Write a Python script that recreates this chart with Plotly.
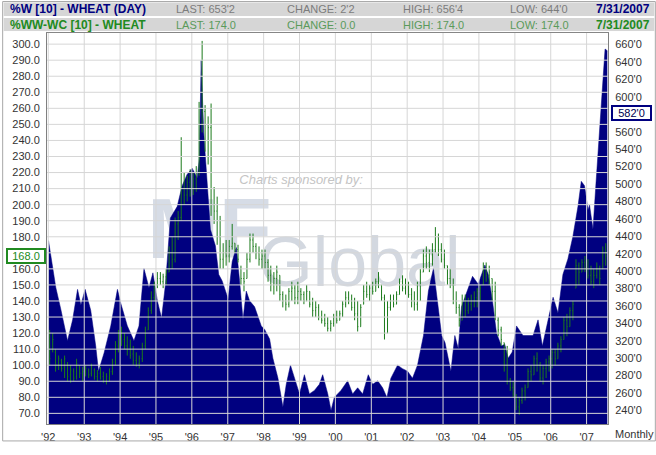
import plotly.graph_objects as go
import pandas as pd

W, H = 656, 455
ML, MR, MT, MB = 45, 48, 33, 18
PW, PH = W - ML - MR, H - MT - MB

FONT = "Liberation Sans, Arial, sans-serif"
NAVY = "#000080"
GREEN = "#1b7a1b"

# ---- daily wheat (right axis) ----
wheat_dates = [
    "1992-01-03", "1992-02-15", "1992-03-18", "1992-05-08", "1992-07-15", "1992-09-05",
    "1992-10-25", "1992-11-28", "1993-01-10", "1993-03-08", "1993-04-28", "1993-05-26",
    "1993-07-22", "1993-09-28", "1993-12-05", "1994-01-08", "1994-03-16", "1994-05-22",
    "1994-07-12", "1994-09-01", "1994-10-22", "1994-12-01", "1995-01-15", "1995-02-27",
    "1995-04-08", "1995-05-28", "1995-08-05", "1995-09-25", "1995-11-14", "1996-01-05",
    "1996-02-24", "1996-03-18", "1996-04-05", "1996-05-01", "1996-06-05", "1996-07-08",
    "1996-08-28", "1996-10-01", "1996-11-04", "1997-01-05", "1997-02-15", "1997-03-29",
    "1997-05-01", "1997-06-05", "1997-07-08", "1997-08-11", "1997-10-01", "1997-12-08",
    "1998-01-11", "1998-03-03", "1998-04-05", "1998-05-27", "1998-07-16", "1998-08-19",
    "1998-10-01", "1998-11-10", "1999-01-01", "1999-02-20", "1999-04-12", "1999-06-02",
    "1999-07-22", "1999-08-25", "1999-10-16", "1999-11-18", "1999-12-21", "2000-02-27",
    "2000-05-05", "2000-06-25", "2000-08-15", "2000-10-05", "2000-12-01", "2001-01-15",
    "2001-03-07", "2001-04-26", "2001-06-09", "2001-07-19", "2001-09-25", "2001-11-14",
    "2002-01-05", "2002-02-24", "2002-04-16", "2002-06-16", "2002-08-05", "2002-09-25",
    "2002-10-28", "2002-12-18", "2003-01-21", "2003-02-24", "2003-03-22", "2003-05-01",
    "2003-06-05", "2003-07-08", "2003-08-28", "2003-10-28", "2003-12-25", "2004-03-02",
    "2004-04-05", "2004-05-18", "2004-06-28", "2004-08-17", "2004-09-20", "2004-10-25",
    "2004-12-05", "2005-01-18", "2005-03-25", "2005-05-15", "2005-07-05", "2005-08-25",
    "2005-10-08", "2005-11-28", "2006-01-25", "2006-03-16", "2006-05-05", "2006-06-25",
    "2006-08-15", "2006-10-05", "2006-11-08", "2006-12-11", "2007-01-15", "2007-01-31",
    "2007-03-07", "2007-04-08", "2007-05-12", "2007-06-16", "2007-07-08", "2007-07-31",
]
wheat_prices = [
    435, 403, 381, 356, 320, 344,
    379, 361, 379, 355, 314, 285,
    306, 337, 379, 363, 337, 320,
    337, 403, 381, 398, 366, 346,
    385, 461, 474, 498, 511, 518,
    507, 529, 642, 559, 496, 448,
    429, 396, 389, 368, 411, 427,
    389, 344, 377, 366, 359, 337,
    333, 322, 300, 277, 244, 270,
    292, 277, 259, 281, 259, 263,
    270, 281, 259, 240, 255, 263,
    274, 259, 266, 259, 281, 270,
    274, 266, 255, 277, 292, 288,
    285, 277, 292, 326, 377, 403,
    374, 326, 318, 300, 285, 326,
    311, 359, 374, 394, 385, 407,
    396, 366, 329, 314, 316, 300,
    307, 337, 326, 326, 326, 344,
    314, 340, 370, 352, 396, 414,
    440, 474, 503, 498, 470, 476,
    448, 503, 559, 618, 655, 653,
]

# ---- monthly spread bars (left axis) ----
spread_months = pd.date_range("1992-01-01", "2007-07-01", freq="MS") + pd.Timedelta(days=14)
spread_high = [
    122, 120, 110, 106, 104, 106, 102, 100, 98, 104, 100, 99,
    100, 98, 101, 98, 97, 99, 96, 95, 98, 104, 115, 122,
    124, 120, 118, 116, 112, 108, 106, 114, 124, 136, 146, 152,
    158, 158, 157, 160, 174, 180, 192, 196, 242, 220, 218, 222,
    220, 224, 264, 302, 262, 255, 263, 211, 205, 193, 176, 178,
    178, 188, 176, 175, 162, 158, 170, 182, 182, 176, 174, 172,
    172, 166, 162, 158, 162, 156, 146, 144, 148, 152, 150, 152,
    148, 146, 150, 146, 142, 140, 138, 134, 132, 130, 128, 132,
    134, 134, 140, 146, 146, 144, 142, 140, 138, 150, 152, 150,
    152, 154, 158, 150, 144, 140, 144, 144, 146, 154, 156, 154,
    152, 148, 146, 152, 160, 172, 174, 172, 176, 186, 182, 176,
    172, 162, 160, 154, 146, 138, 144, 144, 142, 144, 146, 148,
    150, 164, 164, 162, 154, 152, 130, 124, 114, 112, 92, 90,
    82, 80, 86, 88, 98, 100, 106, 108, 102, 100, 104, 106,
    110, 110, 114, 118, 130, 132, 136, 140, 166, 164, 166, 168,
    166, 162, 160, 164, 162, 174, 176,
]
spread_low = [
    100, 108, 96, 97, 96, 92, 90, 89, 90, 91, 92, 90,
    93, 92, 93, 91, 90, 91, 89, 88, 90, 94, 100, 108,
    112, 110, 106, 104, 100, 99, 98, 102, 110, 122, 132, 140,
    148, 150, 148, 150, 158, 160, 164, 178, 190, 200, 202, 205,
    206, 208, 218, 245, 233, 225, 193, 188, 175, 160, 160, 162,
    164, 172, 170, 164, 150, 146, 154, 164, 170, 166, 162, 160,
    160, 152, 146, 144, 146, 140, 136, 134, 136, 140, 138, 138,
    140, 138, 140, 136, 130, 130, 128, 126, 124, 121, 121, 124,
    126, 128, 130, 136, 138, 134, 128, 121, 124, 138, 142, 140,
    144, 146, 148, 140, 116, 120, 134, 136, 138, 144, 146, 144,
    142, 136, 134, 134, 140, 158, 160, 158, 162, 170, 168, 164,
    160, 150, 148, 138, 132, 124, 128, 130, 132, 134, 136, 136,
    140, 150, 152, 150, 140, 128, 118, 112, 96, 88, 84, 80,
    72, 69, 76, 78, 86, 90, 94, 96, 90, 88, 92, 96,
    98, 100, 104, 108, 116, 118, 124, 128, 148, 150, 158, 158,
    154, 150, 148, 154, 150, 160, 162,
]
spread_open = [
    118, 110, 108, 100, 103, 99, 100, 94, 96, 93, 99, 95,
    96, 97, 95, 97, 93, 95, 93, 90, 92, 96, 102, 112,
    118, 116, 112, 110, 107, 103, 101, 104, 112, 122, 134, 142,
    150, 154, 152, 155, 158, 170, 166, 188, 192, 210, 206, 214,
    210, 216, 220, 250, 258, 240, 248, 200, 196, 180, 166, 170,
    168, 174, 176, 172, 160, 154, 154, 166, 178, 174, 170, 166,
    168, 164, 156, 150, 154, 156, 144, 140, 138, 146, 148, 142,
    146, 144, 140, 146, 138, 134, 136, 130, 128, 126, 123, 126,
    130, 128, 132, 138, 142, 140, 136, 132, 124, 138, 146, 144,
    148, 146, 152, 150, 142, 120, 136, 140, 138, 144, 152, 148,
    150, 144, 140, 138, 150, 158, 168, 164, 170, 172, 180, 172,
    166, 162, 154, 150, 140, 136, 128, 140, 134, 138, 140, 142,
    146, 150, 160, 156, 154, 146, 128, 122, 114, 100, 90, 86,
    80, 74, 78, 84, 86, 96, 94, 104, 100, 92, 98, 102,
    104, 108, 104, 112, 116, 128, 124, 134, 148, 162, 158, 164,
    160, 156, 152, 156, 160, 160, 170,
]
spread_close = [
    104, 116, 100, 104, 98, 104, 93, 97, 92, 101, 95, 96,
    98, 94, 99, 93, 95, 92, 90, 93, 96, 102, 113, 119,
    115, 112, 109, 106, 103, 101, 104, 112, 122, 134, 142, 150,
    154, 152, 155, 158, 170, 166, 188, 192, 210, 206, 214, 210,
    216, 220, 250, 258, 240, 248, 200, 196, 180, 166, 170, 168,
    174, 176, 172, 166, 154, 152, 166, 178, 174, 170, 166, 168,
    164, 156, 150, 154, 158, 144, 140, 138, 146, 148, 142, 146,
    144, 140, 146, 138, 134, 136, 130, 128, 126, 123, 126, 130,
    128, 132, 138, 142, 140, 136, 132, 124, 136, 146, 144, 148,
    146, 152, 150, 142, 120, 136, 140, 138, 144, 152, 148, 150,
    144, 140, 138, 150, 158, 168, 164, 170, 172, 180, 172, 166,
    162, 154, 150, 140, 136, 128, 140, 134, 138, 140, 142, 146,
    148, 160, 156, 158, 146, 130, 122, 116, 100, 90, 86, 82,
    74, 78, 84, 86, 96, 94, 104, 100, 92, 98, 102, 104,
    108, 104, 112, 116, 128, 124, 134, 138, 162, 158, 164, 160,
    156, 152, 156, 160, 154, 170, 168,
]

# ---- axis ticks ----
year_ticks = [f"{y}-01-01" for y in range(1992, 2008)]
year_labels = ["'92", "'93", "'94", "'95", "'96", "'97", "'98", "'99",
               "'00", "'01", "'02", "'03", "'04", "'05", "'06", "'07"]
left_grid = list(range(70, 301, 10))
left_ticks = [v for v in left_grid if v != 170]          # 170.0 hidden behind the 168.0 marker
right_ticks = [v for v in range(240, 661, 20) if v != 580]  # 580'0 hidden behind the 582'0 marker
right_labels = [f"{v}'0" for v in right_ticks]

left_marker = 168.0
right_marker = 582


def px(p):
    return (p - ML) / PW


def py(p):
    return (H - MB - p) / PH


fig = go.Figure()
fig.add_trace(go.Scatter(
    x=wheat_dates, y=wheat_prices, mode="lines", fill="tozeroy",
    line=dict(color=NAVY, width=0.5), fillcolor=NAVY,
    yaxis="y", hoverinfo="skip", showlegend=False,
))
fig.add_trace(go.Ohlc(
    x=spread_months, open=spread_open, high=spread_high, low=spread_low, close=spread_close,
    increasing=dict(line=dict(color=GREEN, width=1)),
    decreasing=dict(line=dict(color=GREEN, width=1)),
    tickwidth=0.25, yaxis="y2", hoverinfo="skip", showlegend=False,
))

shapes = []
# watermark (below the data)
shapes.append(dict(type="rect", xref="paper", yref="paper", layer="below",
                   x0=px(140), x1=px(276), y0=py(262), y1=py(190),
                   line=dict(width=0), fillcolor="rgba(0,0,0,0)",
                   label=dict(text="MF", font=dict(family=FONT, size=86, color="#d6dce6", weight="bold"))))
shapes.append(dict(type="rect", xref="paper", yref="paper", layer="below",
                   x0=px(255), x1=px(462), y0=py(302), y1=py(222),
                   line=dict(width=0), fillcolor="rgba(0,0,0,0)",
                   label=dict(text="Global", font=dict(family=FONT, size=70, color="#d3d8e0"))))
shapes.append(dict(type="rect", xref="paper", yref="paper", layer="below",
                   x0=px(230), x1=px(370), y0=py(192), y1=py(174),
                   line=dict(width=0), fillcolor="rgba(0,0,0,0)",
                   label=dict(text="Charts sponsored by:",
                              font=dict(family=FONT, size=13, color="#c4c4c4", style="italic"))))
# grid lines drawn over the area
for v in left_grid:
    shapes.append(dict(type="line", xref="paper", yref="y2", x0=0, x1=1, y0=v, y1=v,
                       line=dict(color="#d6d6d6", width=1), layer="above"))
for d in year_ticks:
    shapes.append(dict(type="line", xref="x", yref="paper", x0=d, x1=d, y0=0, y1=1,
                       line=dict(color="#d6d6d6", width=1), layer="above"))
# header bars
shapes.append(dict(type="rect", xref="paper", yref="paper", x0=px(1), x1=px(655), y0=py(16), y1=py(1),
                   fillcolor="#d6d6d6", line=dict(color="#ffffff", width=1), layer="above"))
shapes.append(dict(type="rect", xref="paper", yref="paper", x0=px(1), x1=px(655), y0=py(31.5), y1=py(17),
                   fillcolor="#d6d6d6", line=dict(color="#ffffff", width=1), layer="above"))
# outer frame
shapes.append(dict(type="rect", xref="paper", yref="paper", x0=px(0.5), x1=px(655.5), y0=py(454.5), y1=py(0.5),
                   line=dict(color="#a8a8a8", width=1), fillcolor="rgba(0,0,0,0)", layer="above"))

ann = []
hdr = [
    (8.5, NAVY, ["%W [10] - WHEAT (DAY)", "LAST: 653'2", "CHANGE: 2'2", "HIGH: 656'4", "LOW: 644'0", "7/31/2007"]),
    (24.5, "#218a21", ["%WW-WC [10] - WHEAT", "LAST: 174.0", "CHANGE: 0.0", "HIGH: 174.0", "LOW: 174.0", "7/31/2007"]),
]
xs = [6, 172, 284, 400, 508, 594]
for yy, col, texts in hdr:
    for i, t in enumerate(texts):
        bold = i in (0, 5)
        ann.append(dict(
            text=t, xref="paper", yref="paper", x=px(xs[i]), y=py(yy),
            xanchor="left", yanchor="middle", showarrow=False,
            font=dict(family=FONT, size=12 if bold else 11,
                      color=col if bold else ("#7c7c7c" if col == NAVY else "#5a9a5a"),
                      weight="bold" if bold else "normal"),
        ))
ann.append(dict(text="Monthly", xref="paper", yref="paper", x=px(613), y=py(447),
                xanchor="left", yanchor="middle", showarrow=False,
                font=dict(family=FONT, size=11, color="#333333")))
ann.append(dict(text=f"{left_marker:.1f}", xref="paper", yref="y2", x=px(44), y=left_marker,
                xanchor="right", yanchor="middle", showarrow=False, width=36, borderpad=0,
                bordercolor="#218a21", borderwidth=2, bgcolor="#ffffff",
                font=dict(family=FONT, size=11, color="#218a21")))
ann.append(dict(text=f"{right_marker}'0", xref="paper", yref="y", x=px(611), y=right_marker,
                xanchor="left", yanchor="middle", showarrow=False, width=37, borderpad=0,
                bordercolor=NAVY, borderwidth=2, bgcolor="#ffffff",
                font=dict(family=FONT, size=11, color="#000050")))

tickfont = dict(family=FONT, size=11, color="#333333")
fig.update_layout(
    width=W, height=H, autosize=False,
    margin=dict(l=ML, r=MR, t=MT, b=MB, pad=0),
    paper_bgcolor="#ffffff", plot_bgcolor="rgba(0,0,0,0)",
    showlegend=False, hovermode=False,
    xaxis=dict(type="date", range=["1991-12-19", "2007-08-07"],
               tickvals=year_ticks, ticktext=year_labels, tickfont=tickfont,
               showgrid=False, zeroline=False, ticks="", showline=True,
               linecolor="#808080", linewidth=1, mirror=True,
               rangeslider=dict(visible=False), ticklabelstandoff=3),
    yaxis=dict(side="right", range=[224.44, 673.33], tickvals=right_ticks, ticktext=right_labels,
               tickfont=tickfont, showgrid=False, zeroline=False, ticks="",
               showline=True, linecolor="#808080", linewidth=1, ticklabelstandoff=4),
    yaxis2=dict(side="left", overlaying="y", range=[63.37, 306.93], tickvals=left_ticks,
                tickformat=".1f", tickfont=tickfont, showgrid=False, zeroline=False, ticks="",
                showline=True, linecolor="#808080", linewidth=1, ticklabelstandoff=4),
    shapes=shapes, annotations=ann,
)

fig.write_html("out.html", config={"displayModeBar": False},
               post_script="document.body.style.margin='0px';document.body.style.overflow='hidden';")
